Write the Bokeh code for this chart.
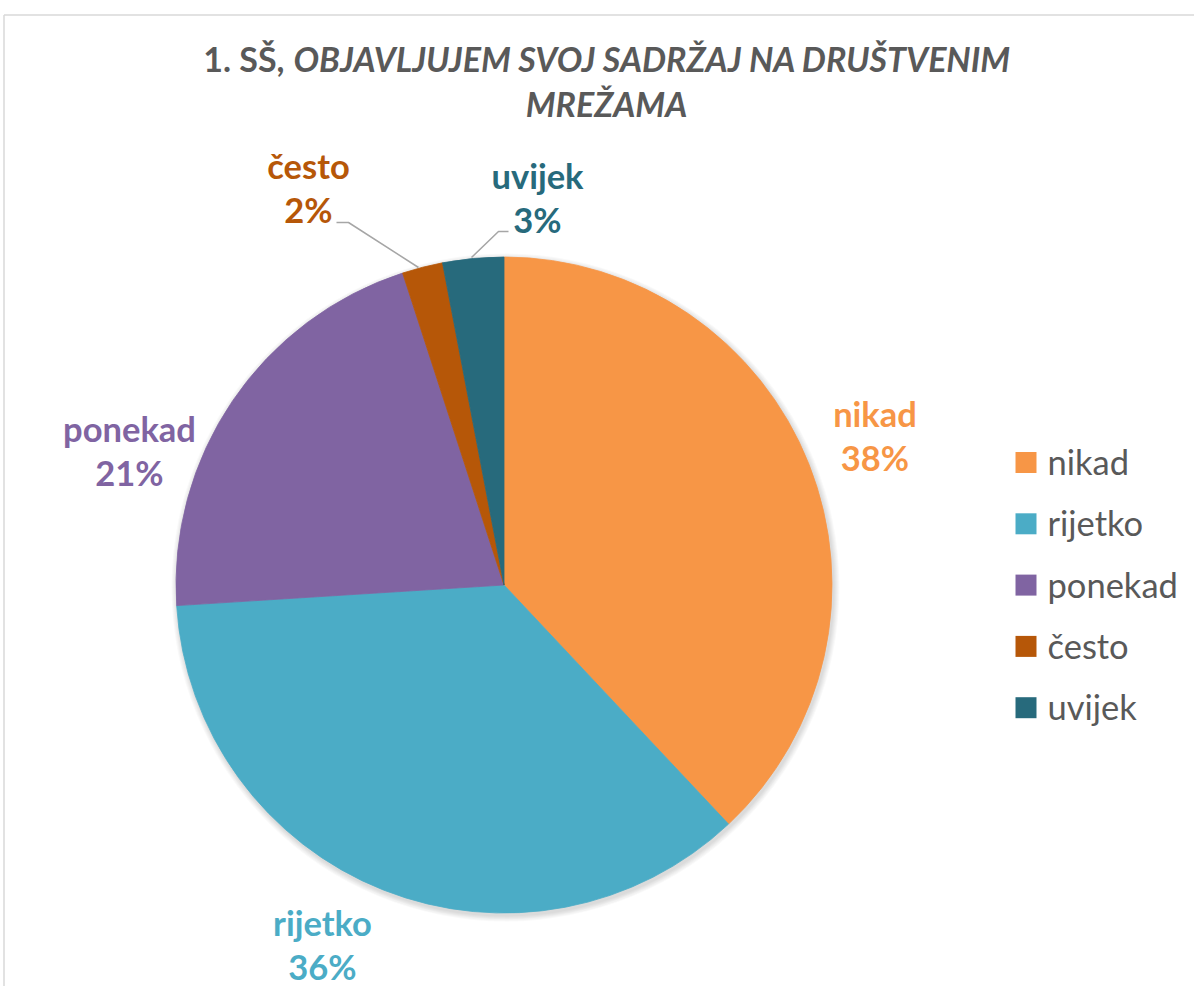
import math
from bokeh.plotting import figure
from bokeh.models import Range1d
from bokeh.core.properties import value
from bokeh.embed import file_html
from bokeh.resources import INLINE

# ---------------- data ----------------
categories = ["nikad", "rijetko", "ponekad", "često", "uvijek"]
percents = [38, 36, 21, 2, 3]
colors = ["#F79646", "#4BACC6", "#8064A2", "#B65708", "#276A7C"]
title_plain = "1. SŠ,"
title_italic_1 = "OBJAVLJUJEM SVOJ SADRŽAJ NA DRUŠTVENIM"
title_italic_2 = "MREŽAMA"

# ---------------- layout (page pixel space) ----------------
W, H = 1194, 986
X0, Y0 = 0, 0
CX, CY, R = 503.5, 584.5, 328
FONT = "Lato"
GRAY = "#595959"
LABEL_SIZE = "34.5px"
LEGEND_SIZE = "34.5px"
TITLE_SIZE = "34px"
TDY = 12  # baseline correction for text rendering

# label anchor offsets (dx, name-baseline dy) relative to pie centre
label_offsets = [(371, -160), (-181.5, 349), (-374.5, -145), (-195.5, -408), (33.5, -398)]
line_gap = 44
# leader lines (relative to pie centre) only for small slices
leaders = {3: [(-167.5, -362.5), (-155.5, -362.5), (-85.5, -317.5)],
           4: [(4.5, -353.5), (-5.5, -353.5), (-32.5, -327.5)]}

p = figure(width=W, height=H, x_range=Range1d(X0, X0 + W), y_range=Range1d(-(Y0 + H), -Y0),
           output_backend="svg", toolbar_location=None, min_border=0,
           x_axis_type=None, y_axis_type=None)
p.outline_line_color = None
p.background_fill_color = "white"
p.border_fill_color = "white"

# chart border (top / left)
p.line([3.5, X0 + W], [-14.5, -14.5], line_color="#D9D9D9", line_width=1.5)
p.line([3.5, 3.5], [-14.5, -(Y0 + H)], line_color="#D9D9D9", line_width=1.5)

# soft shadow
for k in range(6):
    p.circle(x=[CX + 1.5], y=[-(CY + 2.5)], radius=R + 1 + k,
             fill_color="#000000", fill_alpha=0.025, line_color=None)

# wedges
total = sum(percents)
cum = 0
starts, ends = [], []
for v in percents:
    starts.append(math.pi / 2 - 2 * math.pi * cum / total)
    cum += v
    ends.append(math.pi / 2 - 2 * math.pi * cum / total)
p.wedge(x=[CX] * len(percents), y=[-CY] * len(percents), radius=R,
        start_angle=starts, end_angle=ends, direction="clock",
        fill_color=colors, line_color=colors, line_width=0.8)

# leader lines
xs, ys = [], []
for i, pts in leaders.items():
    xs.append([CX + dx for dx, dy in pts])
    ys.append([-(CY + dy) for dx, dy in pts])
p.multi_line(xs, ys, line_color="#A6A6A6", line_width=1.5)

# data labels
name_x, name_y, pct_y = [], [], []
for dx, dy in label_offsets:
    name_x.append(CX + dx)
    name_y.append(-(CY + dy) + TDY)
    pct_y.append(-(CY + dy + line_gap) + TDY)
pct_text = [f"{v}%" for v in percents]
p.text(x=name_x, y=name_y, text=categories, text_color=colors, text_font=value(FONT),
       text_font_style="bold", text_font_size=LABEL_SIZE, text_align="center",
       text_baseline="alphabetic")
p.text(x=name_x, y=pct_y, text=pct_text, text_color=colors, text_font=value(FONT),
       text_font_style="bold", text_font_size=LABEL_SIZE, text_align="center",
       text_baseline="alphabetic")

# legend
LX, LY, LS = 1025.5, 462, 61.3
leg_y = [-(LY + i * LS) for i in range(len(categories))]
p.rect(x=[LX] * len(categories), y=leg_y, width=21, height=21,
       fill_color=colors, line_color=None)
p.text(x=[1047] * len(categories), y=[y - 11 + TDY for y in leg_y], text=categories,
       text_color=GRAY, text_font=value(FONT), text_font_size=LEGEND_SIZE,
       text_align="left", text_baseline="alphabetic")

# title
p.text(x=[284], y=[-70 + TDY], text=[title_plain], text_color=GRAY, text_font=value(FONT),
       text_font_style="bold", text_font_size=TITLE_SIZE, text_align="right",
       text_baseline="alphabetic")
p.text(x=[293], y=[-70 + TDY], text=[title_italic_1], text_color=GRAY, text_font=value(FONT),
       text_font_style="bold italic", text_font_size=TITLE_SIZE, text_align="left",
       text_baseline="alphabetic")
p.text(x=[606], y=[-115 + TDY], text=[title_italic_2], text_color=GRAY, text_font=value(FONT),
       text_font_style="bold italic", text_font_size=TITLE_SIZE, text_align="center",
       text_baseline="alphabetic")

open("out.html", "w").write(file_html(p, INLINE))
